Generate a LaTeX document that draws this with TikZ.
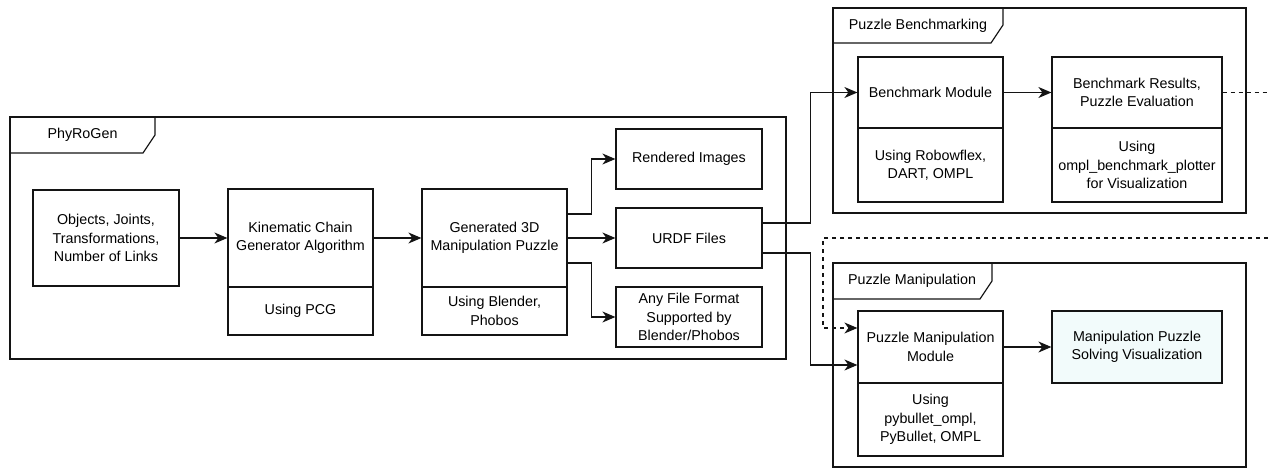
\documentclass[tikz,border=0pt]{standalone}
\usepackage{fontspec}
\setmainfont{Liberation Sans}
\usetikzlibrary{arrows.meta}
\definecolor{linec}{RGB}{20,20,20}
\definecolor{visfill}{RGB}{242,251,251}
\begin{document}
\begin{tikzpicture}[x=1pt,y=-1pt,
  font=\fontsize{14.3}{18.3}\selectfont,
  box/.style={draw=linec, line width=1.2pt, rectangle, inner sep=0pt, align=center, text=black},
  frame/.style={draw=linec, line width=1.2pt, rectangle, inner sep=0pt},
  tabline/.style={draw=linec, line width=1.2pt},
  arr/.style={draw=linec, line width=1.2pt, -{Stealth[length=13pt,width=11pt,inset=4pt]}},
  dashline/.style={dash pattern=on 4pt off 4pt}
]
\useasboundingbox (0,0) rectangle (1268,468);

% frames
\node[frame, minimum width=776pt, minimum height=242pt] (fphy) at (398,238) {};
\draw[tabline] (10,117) -- (155,117) -- (155,135) -- (143,153) -- (10,153);
\node (tphy) at (82.5,135) {PhyRoGen};

\node[frame, minimum width=413pt, minimum height=205pt] (fbench) at (1039.5,110.5) {};
\draw[tabline] (833,8) -- (1003,8) -- (1003,25) -- (991,43) -- (833,43);
\node (tbench) at (918,25.5) {Puzzle Benchmarking};

\node[frame, minimum width=413pt, minimum height=204pt] (fmanip) at (1039.5,365) {};
\draw[tabline] (833,263) -- (992,263) -- (992,281) -- (980,299) -- (833,299);
\node (tmanip) at (912,281) {Puzzle Manipulation};

% PhyRoGen boxes
\node[box, minimum width=146pt, minimum height=96pt] (in) at (106,238) {Objects, Joints,\\Transformations,\\Number of Links};
\node[box, minimum width=145pt, minimum height=98pt] (kinT) at (300.5,238) {Kinematic Chain\\Generator Algorithm};
\node[box, minimum width=145pt, minimum height=48pt] (kinB) at (300.5,311) {Using PCG};
\node[box, minimum width=145pt, minimum height=98pt] (genT) at (494.5,238) {Generated 3D\\Manipulation Puzzle};
\node[box, minimum width=145pt, minimum height=48pt] (genB) at (494.5,311) {Using Blender,\\Phobos};
\node[box, minimum width=146pt, minimum height=60pt] (rend) at (689,159) {Rendered Images};
\node[box, minimum width=146pt, minimum height=60pt] (urdf) at (689,238) {URDF Files};
\node[box, minimum width=146pt, minimum height=60pt] (any) at (689,317) {Any File Format\\Supported by\\Blender/Phobos};

% Benchmarking boxes
\node[box, minimum width=145pt, minimum height=71pt] (bmT) at (930.5,92.5) {Benchmark Module};
\node[box, minimum width=145pt, minimum height=74pt] (bmB) at (930.5,165) {Using Robowflex,\\DART, OMPL};
\node[box, minimum width=170pt, minimum height=71pt] (brT) at (1137,92.5) {Benchmark Results,\\Puzzle Evaluation};
\node[box, minimum width=170pt, minimum height=74pt] (brB) at (1137,165) {Using\\ompl\_benchmark\_plotter\\for Visualization};

% Manipulation boxes
\node[box, minimum width=145pt, minimum height=72pt] (pmT) at (930.5,347) {Puzzle Manipulation\\Module};
\node[box, minimum width=145pt, minimum height=73pt] (pmB) at (930.5,419.5) {Using\\pybullet\_ompl,\\PyBullet, OMPL};
\node[box, fill=visfill, minimum width=170pt, minimum height=72pt] (vis) at (1137,347) {Manipulation Puzzle\\Solving Visualization};

% free ends
\coordinate (dstart) at (1268,238);
\coordinate (dcorner) at (823,238);
\coordinate (dend) at (1268,92.5);

% connectors
\draw[arr] (in.east) -- (kinT.west);
\draw[arr] (kinT.east) -- (genT.west);
\draw[arr] ([yshift=24pt]genT.east) -- ++(24,0) |- (rend.west);
\draw[arr] (genT.east) -- (urdf.west);
\draw[arr] ([yshift=-25pt]genT.east) -- ++(24,0) |- (any.west);
\draw[arr] ([yshift=15pt]urdf.east) -- ++(48,0) |- (bmT.west);
\draw[arr] ([yshift=-15pt]urdf.east) -- ++(48,0) |- ([yshift=-18pt]pmT.west);
\draw[arr] (bmT.east) -- (brT.west);
\draw[arr] (pmT.east) -- (vis.west);
\draw[draw=linec, line width=1.2pt, dashline] (brT.east) -- (dend);
\draw[arr, dashline] (dstart) -- (dcorner) |- ([yshift=19pt]pmT.west);
\end{tikzpicture}
\end{document}
